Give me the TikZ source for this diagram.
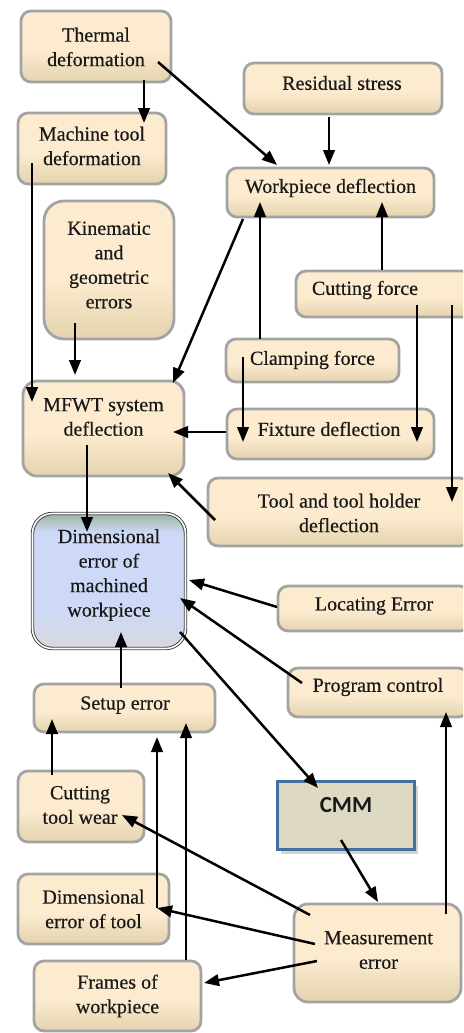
\documentclass[tikz,border=0pt]{standalone}
\usepackage{fontspec}
\setmainfont{Liberation Serif}[FakeBold=0.4]
\newfontfamily\cmmfont{Carlito}
\usetikzlibrary{arrows.meta,shadows}
\definecolor{boxcream}{HTML}{FCEBCF}
\definecolor{boxtan}{HTML}{E4D3AD}
\definecolor{boxgray}{HTML}{A3A3A3}
\definecolor{dimblue}{HTML}{CDD9F7}
\definecolor{dimgreen}{HTML}{9DB39F}
\definecolor{dimbot}{HTML}{D8D9E0}
\definecolor{dimline}{HTML}{404040}
\definecolor{cmmfill}{HTML}{DDD9C3}
\definecolor{cmmline}{HTML}{41719C}
\pgfdeclareverticalshading{creamshade}{100bp}{color(0bp)=(boxtan); color(25bp)=(boxtan); color(47bp)=(boxcream); color(100bp)=(boxcream)}
\pgfdeclareverticalshading{dimshade}{100bp}{color(0bp)=(dimbot); color(25bp)=(dimbot); color(40bp)=(dimblue); color(68bp)=(dimblue); color(75bp)=(dimgreen); color(100bp)=(dimgreen)}
\tikzset{
  box/.style={draw=boxgray, line width=2.8pt, rounded corners=10pt, shade, shading=creamshade, inner sep=0pt},
  txt/.style={font=\fontsize{20}{24.5}\selectfont, text=black!90, align=center, inner sep=0pt},
  cmmtxt/.style={font=\cmmfont\bfseries\fontsize{23}{26}\selectfont, text=black!90, inner sep=0pt},
  dimbox/.style={draw=dimline, line width=0.9pt, double=white, double distance=1.6pt, rounded corners=20pt, shade, shading=dimshade, inner sep=0pt},
  cmmbox/.style={draw=cmmline, line width=3pt, fill=cmmfill, inner sep=0pt, drop shadow={shadow xshift=3pt, shadow yshift=-4pt, opacity=0.35}},
  arr/.style={line width=2.5pt, -{Triangle[length=15pt,width=11.5pt]}}
}
\begin{document}
\begin{tikzpicture}[x=1pt,y=-1pt]
\path[use as bounding box] (0,0) rectangle (463,1033);
\clip (0,0) rectangle (463,1033);
\fill[white] (0,0) rectangle (463,1033);

% boxes
\node[box, minimum width=150pt, minimum height=71pt] (thermal) at (96,46.5) {};
\node[box, minimum width=198pt, minimum height=51pt] (residual) at (343,88.5) {};
\node[box, minimum width=148pt, minimum height=71pt] (machine) at (92,148.5) {};
\node[box, minimum width=207pt, minimum height=49pt] (workpiece) at (330.5,192.5) {};
\node[box, rounded corners=20pt, minimum width=130pt, minimum height=138pt] (kinematic) at (109,270) {};
\node[box, minimum width=178pt, minimum height=46pt] (cutting) at (385,294) {};
\node[box, minimum width=173pt, minimum height=43pt] (clamping) at (312.5,360.5) {};
\node[box, rounded corners=14pt, minimum width=161pt, minimum height=95pt] (mfwt) at (103.5,428.5) {};
\node[box, minimum width=207pt, minimum height=50pt] (fixture) at (330.5,434) {};
\node[box, minimum width=262pt, minimum height=68pt] (toolholder) at (339,512) {};
\node[dimbox, minimum width=153pt, minimum height=135pt] (dimerr) at (109,581) {};
\node[box, minimum width=192pt, minimum height=45pt] (locating) at (374,608.5) {};
\node[box, minimum width=180pt, minimum height=49pt] (program) at (378,692.5) {};
\node[box, minimum width=181pt, minimum height=48pt] (setup) at (124.5,708) {};
\node[box, minimum width=126pt, minimum height=71pt] (wear) at (81,806.5) {};
\node[cmmbox, minimum width=137pt, minimum height=68pt] (cmm) at (346,815.5) {};
\node[box, minimum width=151pt, minimum height=70pt] (dimtool) at (93.5,909) {};
\node[box, rounded corners=14pt, minimum width=167pt, minimum height=98pt] (measure) at (377.5,953) {};
\node[box, minimum width=167pt, minimum height=70pt] (frames) at (117.5,996) {};

% texts
\node[txt] (thermal-t) at ([shift={(0,0.5)}]thermal.center) {Thermal\\deformation};
\node[txt] (residual-t) at ([shift={(-1,-5.5)}]residual.center) {Residual stress};
\node[txt] (machine-t) at ([shift={(0,-2.5)}]machine.center) {Machine tool\\deformation};
\node[txt] (workpiece-t) at ([shift={(0,-4.5)}]workpiece.center) {Workpiece deflection};
\node[txt] (kinematic-t) at ([shift={(0,-5)}]kinematic.center) {Kinematic\\and\\geometric\\errors};
\node[txt] (cutting-t) at ([shift={(-20,-4)}]cutting.center) {Cutting force};
\node[txt] (clamping-t) at ([shift={(0,-0.5)}]clamping.center) {Clamping force};
\node[txt] (mfwt-t) at ([shift={(0,-11.5)}]mfwt.center) {MFWT system\\deflection};
\node[txt] (fixture-t) at ([shift={(-1.5,-5)}]fixture.center) {Fixture deflection};
\node[txt] (toolholder-t) at ([shift={(0,1)}]toolholder.center) {Tool and tool holder\\deflection};
\node[txt] (dimerr-t) at ([shift={(0,-6)}]dimerr.center) {Dimensional\\error of\\machined\\workpiece};
\node[txt] (locating-t) at ([shift={(0,-2.5)}]locating.center) {Locating Error};
\node[txt] (program-t) at ([shift={(0,-5.5)}]program.center) {Program control};
\node[txt] (setup-t) at ([shift={(0.5,-3)}]setup.center) {Setup error};
\node[txt] (wear-t) at ([shift={(-1,-1.5)}]wear.center) {Cutting\\tool wear};
\node[cmmtxt] (cmm-t) at ([shift={(0,-10.5)}]cmm.center) {CMM};
\node[txt] (dimtool-t) at ([shift={(0,0)}]dimtool.center) {Dimensional\\error of tool};
\node[txt] (measure-t) at ([shift={(1,-3)}]measure.center) {Measurement\\error};
\node[txt] (frames-t) at ([shift={(0,0)}]frames.center) {Frames of\\workpiece};

% connectors
\draw[arr] ([shift={(48,33.5)}]thermal.center) -- ([shift={(52,-25.5)}]machine.center);
\draw[arr] ([shift={(62,15.5)}]thermal.center) -- ([shift={(-53.5,-27.5)}]workpiece.center);
\draw[arr] ([shift={(-14,28.5)}]residual.center) -- ([shift={(-1.5,-27.5)}]workpiece.center);
\draw[arr] ([shift={(-60,14.5)}]machine.center) -- ([shift={(-71.5,-26.5)}]mfwt.center);
\draw[arr] ([shift={(-34,53)}]kinematic.center) -- ([shift={(-28.5,-53.5)}]mfwt.center);
\draw[arr] ([shift={(-87.5,26.5)}]workpiece.center) -- ([shift={(69.5,-45.5)}]mfwt.center);
\draw[arr] ([shift={(-52.5,-21.5)}]clamping.center) -- ([shift={(-70.5,9.5)}]workpiece.center);
\draw[arr] ([shift={(-3,-24)}]cutting.center) -- ([shift={(51.5,9.5)}]workpiece.center);
\draw[arr] ([shift={(-69.5,-3.5)}]clamping.center) -- ([shift={(-87.5,8)}]fixture.center);
\draw[arr] ([shift={(32,11)}]cutting.center) -- ([shift={(86.5,8)}]fixture.center);
\draw[arr] ([shift={(67,11)}]cutting.center) -- ([shift={(113,-10)}]toolholder.center);
\draw[arr] ([shift={(-104.5,-2)}]fixture.center) -- ([shift={(69.5,3.5)}]mfwt.center);
\draw[arr] ([shift={(-124,8)}]toolholder.center) -- ([shift={(64.5,44.5)}]mfwt.center);
\draw[arr] ([shift={(-16.5,16.5)}]mfwt.center) -- ([shift={(-22,-49)}]dimerr.center);
\draw[arr] ([shift={(-97,-1.5)}]locating.center) -- ([shift={(80,-1)}]dimerr.center);
\draw[arr] ([shift={(-76,-9.5)}]program.center) -- ([shift={(71,17)}]dimerr.center);
\draw[arr] ([shift={(71,51)}]dimerr.center) -- ([shift={(-28,-27.5)}]cmm.center);
\draw[arr] ([shift={(-3.5,-20)}]setup.center) -- ([shift={(12,51)}]dimerr.center);
\draw[arr] ([shift={(-29,-31.5)}]wear.center) -- ([shift={(-72.5,11)}]setup.center);
\draw[arr] ([shift={(63.5,-1)}]dimtool.center) -- ([shift={(32.5,29)}]setup.center);
\draw[arr] ([shift={(68.5,-36)}]frames.center) -- ([shift={(61.5,15)}]setup.center);
\draw[arr] ([shift={(68.5,-39)}]measure.center) -- ([shift={(68,19.5)}]program.center);
\draw[arr] ([shift={(-5,24.5)}]cmm.center) -- ([shift={(0.5,-51)}]measure.center);
\draw[arr] ([shift={(-67.5,-38)}]measure.center) -- ([shift={(41,8.5)}]wear.center);
\draw[arr] ([shift={(-62.5,-9)}]measure.center) -- ([shift={(63.5,-1)}]dimtool.center);
\draw[arr] ([shift={(-60.5,8)}]measure.center) -- ([shift={(86.5,-13)}]frames.center);
\end{tikzpicture}
\end{document}
